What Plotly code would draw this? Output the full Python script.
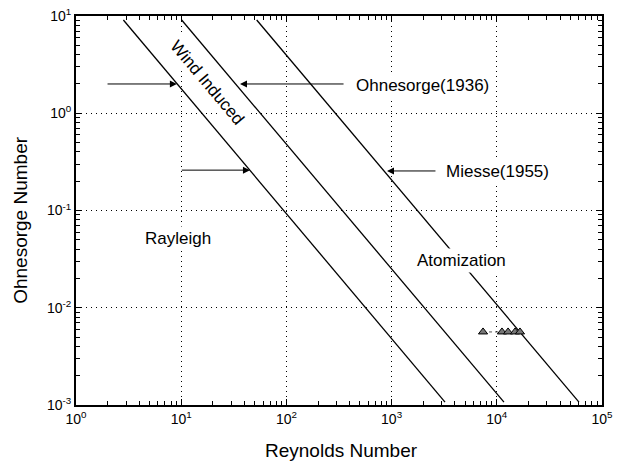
import numpy as np
import plotly.graph_objects as go

# ---- data ----
# regime boundary lines (two end points each): Reynolds and Ohnesorge numbers
line_re = {
    "rayleigh_wind": [2.82, 3220],
    "wind_atom": [10.1, 11700],
    "atomization": [52.2, 60400],
}
line_oh = [9.1, 0.00107]

# measured points (triangles)
pts_re = [7400, 11200, 12800, 14900, 16600]
pts_oh = [0.00564, 0.00564, 0.00564, 0.00564, 0.00564]

# arrow pointers: (tail Re, head Re, Oh)
arrows = [
    (1.93, 9.1, 2.0),
    (361, 36.2, 2.0),
    (9.8, 45, 0.26),
    (2700, 904, 0.255),
]

tick_vals = [1, 10, 100, 1000, 10000, 100000]
x_tick_text = ["10<sup>0</sup>", "10<sup>1</sup>", "10<sup>2</sup>", "10<sup>3</sup>",
               "10<sup>4</sup>", "10<sup>5</sup>"]
y_tick_vals = [0.001, 0.01, 0.1, 1, 10]
y_tick_text = ["10<sup>-3</sup>", "10<sup>-2</sup>", "10<sup>-1</sup>", "10<sup>0</sup>",
               "10<sup>1</sup>"]
minor_mult = [2, 3, 4, 5, 6, 7, 8, 9]
x_minor = [m * d for d in tick_vals[:-1] for m in minor_mult]
y_minor = [m * d for d in y_tick_vals[:-1] for m in minor_mult]

FONT = "Liberation Sans, Arial, sans-serif"

fig = go.Figure()
for name, xs in line_re.items():
    fig.add_trace(go.Scatter(x=xs, y=line_oh, mode="lines",
                             line=dict(color="black", width=1.3),
                             showlegend=False, name=name))

fig.add_trace(go.Scatter(x=pts_re, y=pts_oh, mode="lines+markers",
                         line=dict(color="#555", width=1, dash="3px,3px"),
                         marker=dict(symbol="triangle-up", size=8, color="#777",
                                     line=dict(color="black", width=1)),
                         showlegend=False))

annotations = []
for tail, head, oh in arrows:
    annotations.append(dict(
        x=np.log10(head), y=np.log10(oh), ax=np.log10(tail), ay=np.log10(oh),
        xref="x", yref="y", axref="x", ayref="y", text="",
        showarrow=True, arrowhead=2, arrowsize=1.4, arrowwidth=1,
        arrowcolor="black"))

def label(text, lx, ly, angle=0):
    return dict(x=lx, y=ly, xref="x", yref="y", text=text, showarrow=False,
                textangle=angle, bgcolor="white", borderpad=2,
                font=dict(family=FONT, size=17, color="black"))

annotations += [
    label("Ohnesorge(1936)", 3.289, 0.290),
    label("Miesse(1955)", 4.011, -0.594),
    label("Atomization", 3.669, -1.509),
    label("Rayleigh", 0.970, -1.283),
    label("Wind Induced", 1.244, 0.313, angle=50),
    # axis titles
    dict(x=0.504, y=-0.118, xref="paper", yref="paper", text="Reynolds Number",
         showarrow=False, xanchor="center", yanchor="middle",
         font=dict(family=FONT, size=19, color="black")),
    dict(x=-0.1046, y=0.476, xref="paper", yref="paper", text="Ohnesorge Number",
         showarrow=False, xanchor="center", yanchor="middle", textangle=-90,
         font=dict(family=FONT, size=19, color="black")),
]

axis_common = dict(
    type="log", showline=True, linewidth=2, linecolor="black", mirror="ticks",
    ticks="inside", ticklen=6, tickwidth=1.2, tickcolor="black",
    showgrid=True, gridcolor="black", gridwidth=1, griddash="1px,4px",
    tickfont=dict(family=FONT, size=14, color="black"),
    automargin=False,
)
minor_common = dict(ticks="inside", ticklen=4, tickwidth=1.2, tickcolor="black",
                    showgrid=False, tickmode="array")

fig.update_layout(
    width=622, height=466,
    margin=dict(l=76, r=20, t=16, b=61),
    paper_bgcolor="white", plot_bgcolor="white",
    font=dict(family=FONT, color="black"),
    xaxis=dict(axis_common, range=[0, 5], tickvals=tick_vals, ticktext=x_tick_text,
               minor=dict(minor_common, tickvals=x_minor)),
    yaxis=dict(axis_common, range=[-3, 1], tickvals=y_tick_vals, ticktext=y_tick_text,
               minor=dict(minor_common, tickvals=y_minor)),
    annotations=annotations,
)

fig.write_html("out.html")
